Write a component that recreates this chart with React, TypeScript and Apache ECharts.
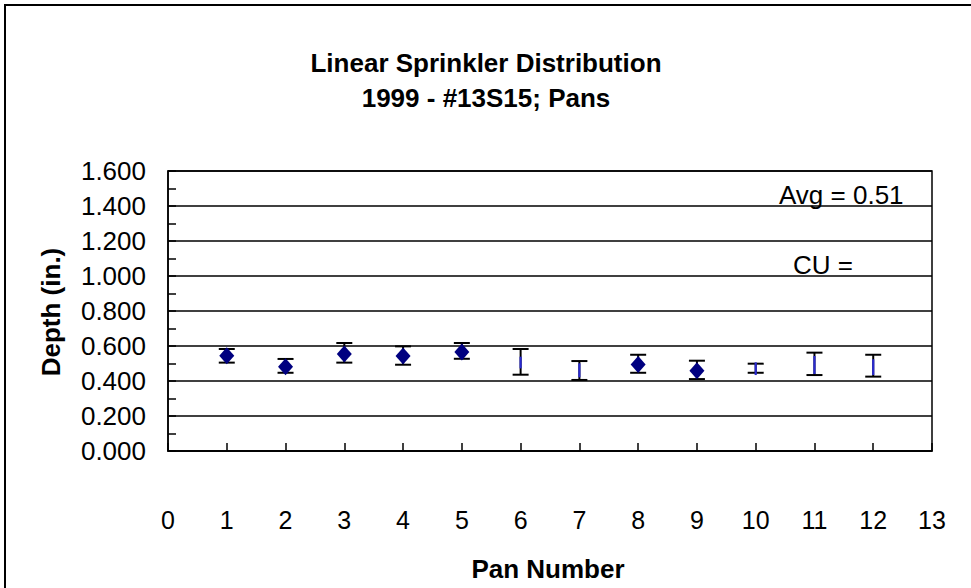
import React, { useEffect, useRef } from "react";
import * as echarts from "echarts";

const titleLines = ["Linear Sprinkler Distribution", "1999 - #13S15; Pans"];
const xAxisName = "Pan Number";
const yAxisName = "Depth (in.)";
const noteLines = ["Avg = 0.51", "CU ="];

const pans = [1, 2, 3, 4, 5, 6, 7, 8, 9, 10, 11, 12];
const markerDepth: (number | null)[] = [0.545, 0.482, 0.554, 0.543, 0.566, null, null, 0.495, 0.459, null, null, null];
const errLow = [0.505, 0.447, 0.505, 0.493, 0.527, 0.436, 0.406, 0.447, 0.411, 0.447, 0.434, 0.425];
const errHigh = [0.583, 0.526, 0.617, 0.598, 0.617, 0.583, 0.514, 0.55, 0.516, 0.499, 0.562, 0.55];
const innerLow: (number | null)[] = [null, null, null, null, null, 0.472, 0.421, null, null, 0.434, 0.44, 0.434];
const innerHigh: (number | null)[] = [null, null, null, null, null, 0.539, 0.501, null, null, 0.507, 0.543, 0.524];

const FONT = "'Liberation Sans', Arial, Helvetica, sans-serif";

export default function App() {
  const ref = useRef<HTMLDivElement>(null);
  useEffect(() => {
    if (!ref.current) return;
    const chart = echarts.init(ref.current, null, { renderer: "svg" });

    const errData = pans.map((p, i) => [p, errLow[i], errHigh[i], innerLow[i] ?? NaN, innerHigh[i] ?? NaN]);
    const markerData = pans
      .map((p, i) => (markerDepth[i] == null ? null : [p, markerDepth[i]]))
      .filter((d) => d !== null);

    chart.setOption({
      animation: false,
      backgroundColor: "#ffffff",
      grid: {
        left: 168,
        top: 171,
        width: 764,
        height: 280,
        show: true,
        borderColor: "#000",
        borderWidth: 1.5,
        backgroundColor: "transparent",
      },
      xAxis: {
        type: "value",
        min: 0,
        max: 13,
        interval: 1,
        axisLine: { show: true, lineStyle: { color: "#000", width: 1.5 } },
        axisTick: { show: true, inside: true, length: 8, lineStyle: { color: "#000", width: 1.5 } },
        splitLine: { show: false },
        axisLabel: { color: "#000", fontFamily: FONT, fontSize: 25, margin: 56 },
      },
      yAxis: {
        type: "value",
        min: 0,
        max: 1.6,
        interval: 0.2,
        axisLine: { show: true, lineStyle: { color: "#000", width: 1.5 } },
        axisTick: { show: true, inside: true, length: 8, lineStyle: { color: "#000", width: 1.5 } },
        minorTick: { show: true, splitNumber: 2, length: 8, lineStyle: { color: "#000", width: 1.5 } },
        splitLine: { show: true, lineStyle: { color: "#000", width: 1.5 } },
        axisLabel: {
          color: "#000",
          fontFamily: FONT,
          fontSize: 26,
          margin: 22,
          inside: false,
          formatter: (v: number) => v.toFixed(3),
        },
      },
      series: [
        {
          type: "custom",
          data: errData,
          encode: { x: 0, y: [1, 2] },
          z: 3,
          renderItem: (params: any, api: any) => {
            const x = api.value(0);
            const lo = api.coord([x, api.value(1)]);
            const hi = api.coord([x, api.value(2)]);
            const half = 8;
            const style = { stroke: "#000", lineWidth: 2 };
            const children: any[] = [
              { type: "line", shape: { x1: lo[0], y1: lo[1], x2: hi[0], y2: hi[1] }, style },
              { type: "line", shape: { x1: lo[0] - half, y1: lo[1], x2: lo[0] + half, y2: lo[1] }, style },
              { type: "line", shape: { x1: hi[0] - half, y1: hi[1], x2: hi[0] + half, y2: hi[1] }, style },
            ];
            const il = api.value(3);
            const ih = api.value(4);
            if (!isNaN(il) && !isNaN(ih)) {
              const a = api.coord([x, il]);
              const b = api.coord([x, ih]);
              children.push({
                type: "line",
                shape: { x1: a[0], y1: a[1], x2: b[0], y2: b[1] },
                style: { stroke: "#2a2ad0", lineWidth: 2.2 },
              });
            }
            return { type: "group", children };
          },
        },
        {
          type: "scatter",
          data: markerData,
          symbol: "diamond",
          symbolSize: [15, 17],
          z: 4,
          itemStyle: { color: "#000080", opacity: 1 },
        },
      ],
      graphic: [
        {
          type: "rect",
          shape: { x: 5, y: 5, width: 1200, height: 1200 },
          style: { fill: "none", stroke: "#000", lineWidth: 2 },
          silent: true,
        },
        {
          type: "text",
          x: 486,
          y: 63,
          style: { text: titleLines[0], fontFamily: FONT, fontSize: 26, fontWeight: "bold", fill: "#000", textAlign: "center", textVerticalAlign: "middle" },
        },
        {
          type: "text",
          x: 486,
          y: 98,
          style: { text: titleLines[1], fontFamily: FONT, fontSize: 26, fontWeight: "bold", fill: "#000", textAlign: "center", textVerticalAlign: "middle" },
        },
        {
          type: "text",
          x: 548,
          y: 569,
          style: { text: xAxisName, fontFamily: FONT, fontSize: 26, fontWeight: "bold", fill: "#000", textAlign: "center", textVerticalAlign: "middle" },
        },
        {
          type: "text",
          x: 51,
          y: 312,
          rotation: Math.PI / 2,
          style: { text: yAxisName, fontFamily: FONT, fontSize: 26, fontWeight: "bold", fill: "#000", textAlign: "center", textVerticalAlign: "middle" },
        },
        {
          type: "text",
          x: 779,
          y: 195,
          style: { text: noteLines[0], fontFamily: FONT, fontSize: 26, fill: "#000", textAlign: "left", textVerticalAlign: "middle" },
        },
        {
          type: "text",
          x: 793,
          y: 265,
          style: { text: noteLines[1], fontFamily: FONT, fontSize: 26, fill: "#000", textAlign: "left", textVerticalAlign: "middle" },
        },
      ],
    });
    return () => chart.dispose();
  }, []);
  return (
    <div
      ref={ref}
      style={{ position: "fixed", left: 0, top: 0, width: 971, height: 588, background: "#fff" }}
    />
  );
}
